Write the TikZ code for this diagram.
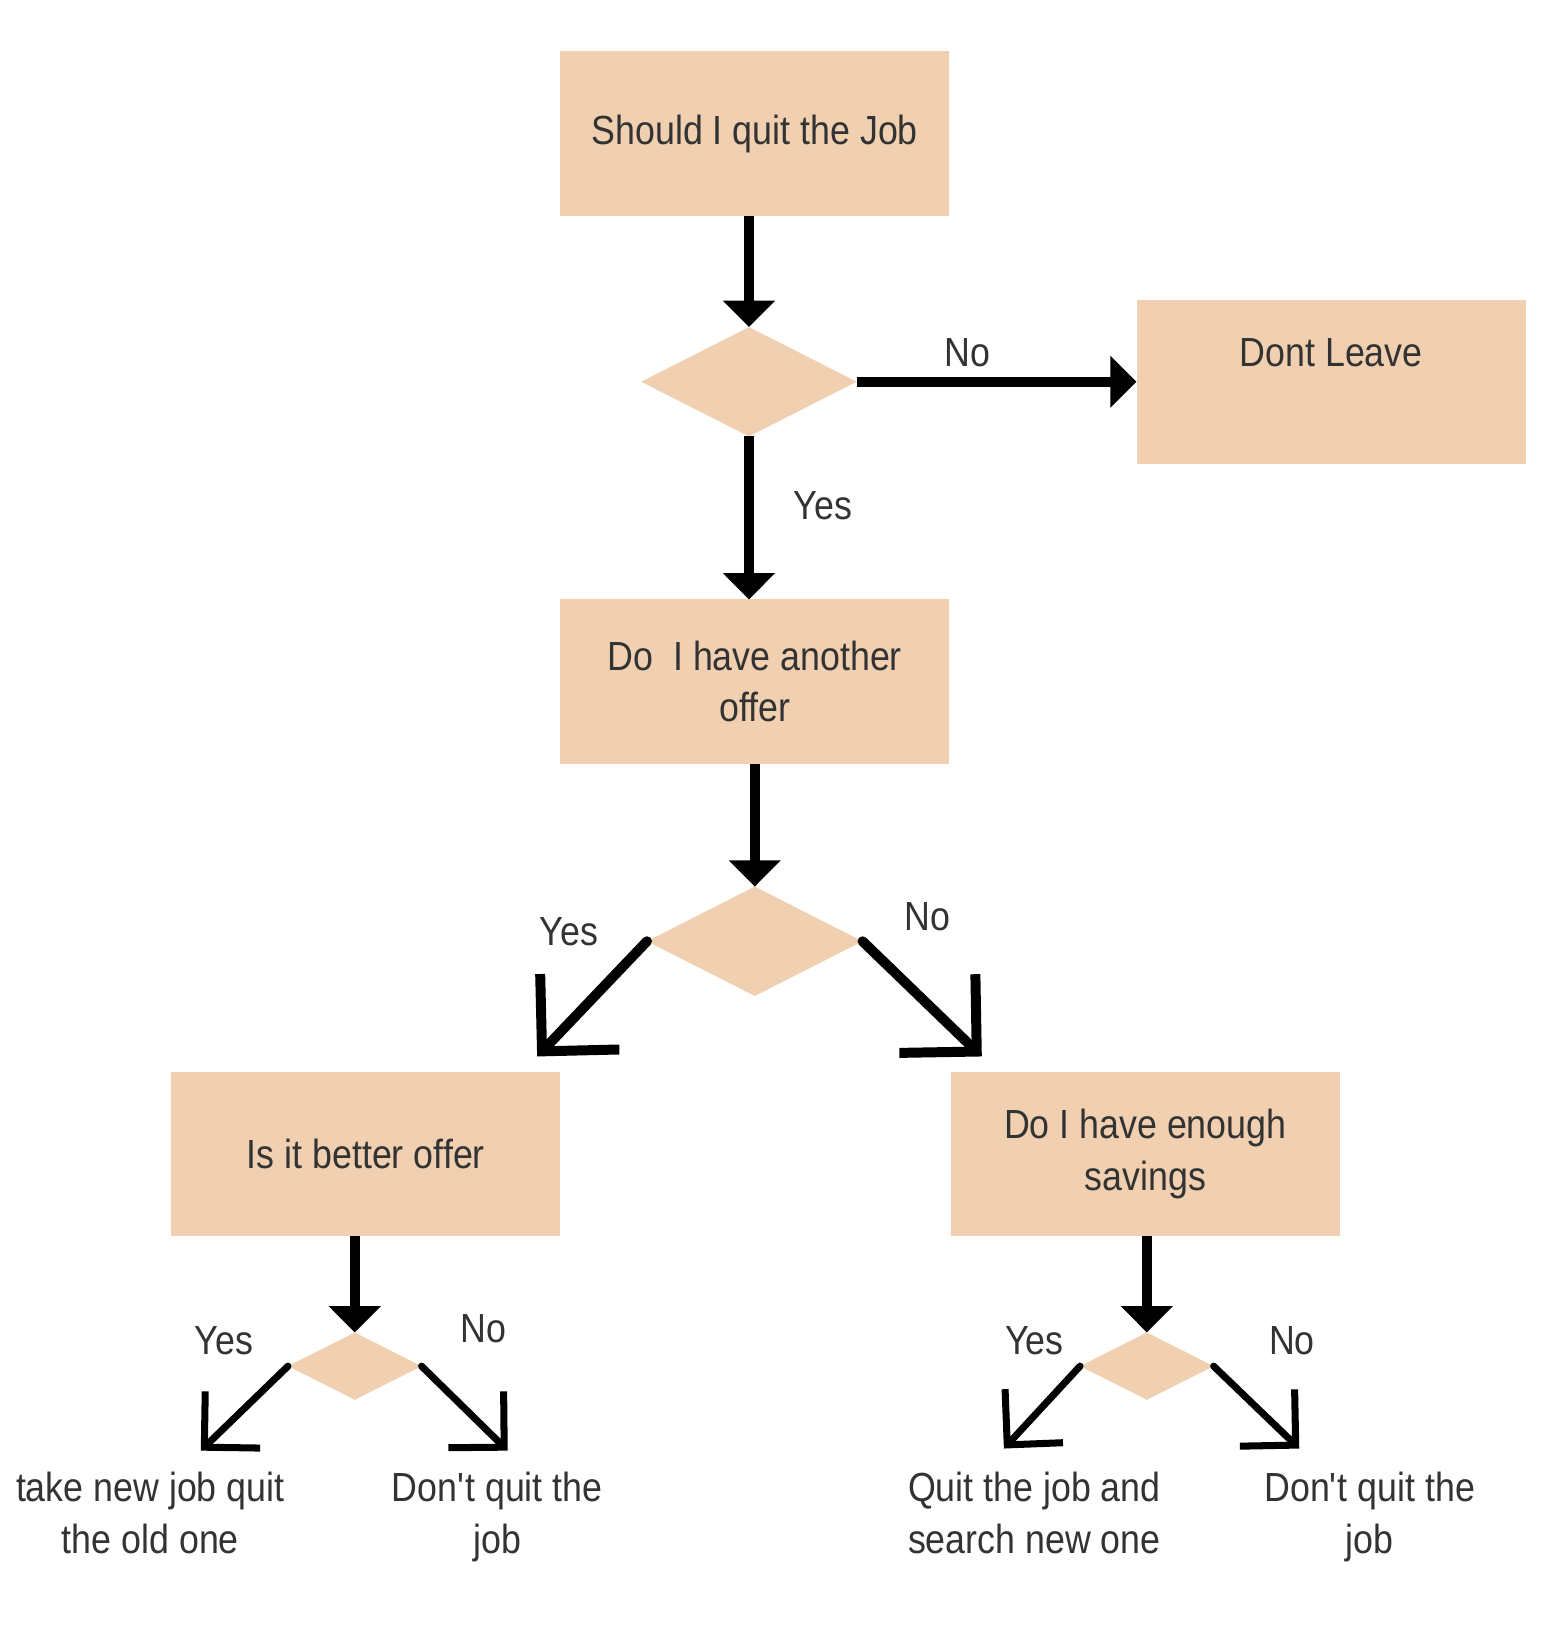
\documentclass[tikz,border=0pt]{standalone}
\usepackage{fontspec}
\setmainfont{Liberation Sans}[FakeStretch=0.88]
\usepackage{tikz}
\usetikzlibrary{shapes.geometric, arrows.meta, positioning}
\definecolor{peach}{HTML}{F0D0B0}
\definecolor{inkgray}{HTML}{333333}
\tikzstyle{question} = [rectangle, minimum width=3.7cm, minimum height=1.56cm, inner sep=0pt, outer sep=0pt, text centered, align=center, fill=peach, text=inkgray]
\tikzstyle{decision} = [diamond, minimum width=2.05cm, minimum height=1.04cm, inner sep=0pt, outer sep=0pt, fill=peach]
\tikzstyle{smalldecision} = [diamond, minimum width=1.27cm, minimum height=0.64cm, inner sep=0pt, outer sep=0pt, fill=peach]
\tikzstyle{answer} = [align=center, text=inkgray, inner sep=0pt]
\tikzstyle{outcome} = [answer, anchor=north]
\tikzstyle{arrow} = [line width=2.7pt, -{Triangle[width=0.48cm, length=0.25cm]}]
\tikzstyle{branch} = [line width=2.7pt, line cap=round, -{Straight Barb[length=0.52cm, width=1.04cm]}]
\tikzstyle{smallbranch} = [line width=1.9pt, line cap=round, -{Straight Barb[length=0.375cm, width=0.75cm]}]

\begin{document}
\begin{tikzpicture}[x=0.01cm, y=-0.01cm, font=\fontsize{11}{14}\selectfont]
\useasboundingbox (0,0) rectangle (1470,1563);
\node (should) [question] at (718,127) {Should I quit the Job};
\node (d1) [decision, below=1.06cm of should, xshift=-0.055cm] {};
\node (leave) [question, right=2.66cm of d1, text height=0.27cm, text depth=0.56cm] {Dont Leave};
\node (offer) [question, below=1.55cm of d1, xshift=0.055cm] {Do\ \ I have another\\offer};
\node (d2) [decision, below=1.17cm of offer, xshift=0cm] {};
\node (better) [question] at (348,1097.5) {Is it better offer};
\node (savings) [question] at (1089.5,1097.5) {Do I have enough\\savings};
\node (d3) [smalldecision, below=0.92cm of better, xshift=-0.105cm] {};
\node (d4) [smalldecision, below=0.92cm of savings, xshift=0.015cm] {};

% branch labels
\node (no1) [answer] at (920,336) {No};
\node (yes1) [answer] at (783,481) {Yes};
\node (yes2) [answer] at (541,886) {Yes};
\node (no2) [answer] at (882,872) {No};
\node (yes3) [answer] at (213,1275) {Yes};
\node (no3) [answer] at (460,1264) {No};
\node (yes4) [answer] at (984,1275) {Yes};
\node (no4) [answer] at (1229,1275) {No};

% outcomes
\node (takenew) [outcome] at (143,1400) {take new job quit\\the old one};
\node (stayA) [outcome] at (473,1400) {Don\textquotesingle t quit the\\job};
\node (quitsearch) [outcome] at (984,1400) {Quit the job and\\search new one};
\node (stayB) [outcome] at (1303,1400) {Don\textquotesingle t quit the\\job};

\coordinate (tipYes2) at (511,1005);
\coordinate (tipNo2) at (934,1005);
\coordinate (tipYes3) at (191,1380);
\coordinate (tipNo3) at (483,1380);
\coordinate (tipYes4) at (955,1378);
\coordinate (tipNo4) at (1236,1378);

\draw [arrow] (should.south -| d1.north) -- (d1.north);
\draw [arrow] (d1.east) -- (leave.west);
\draw [arrow] (d1.south) -- (offer.north -| d1.south);
\draw [arrow] (offer.south -| d2.north) -- (d2.north);
\draw [branch] (d2.west) -- (tipYes2);
\draw [branch] (d2.east) -- (tipNo2);
\draw [arrow] (better.south -| d3.north) -- (d3.north);
\draw [arrow] (savings.south -| d4.north) -- (d4.north);
\draw [smallbranch] (d3.west) -- (tipYes3);
\draw [smallbranch] (d3.east) -- (tipNo3);
\draw [smallbranch] (d4.west) -- (tipYes4);
\draw [smallbranch] (d4.east) -- (tipNo4);
\end{tikzpicture}
\end{document}
